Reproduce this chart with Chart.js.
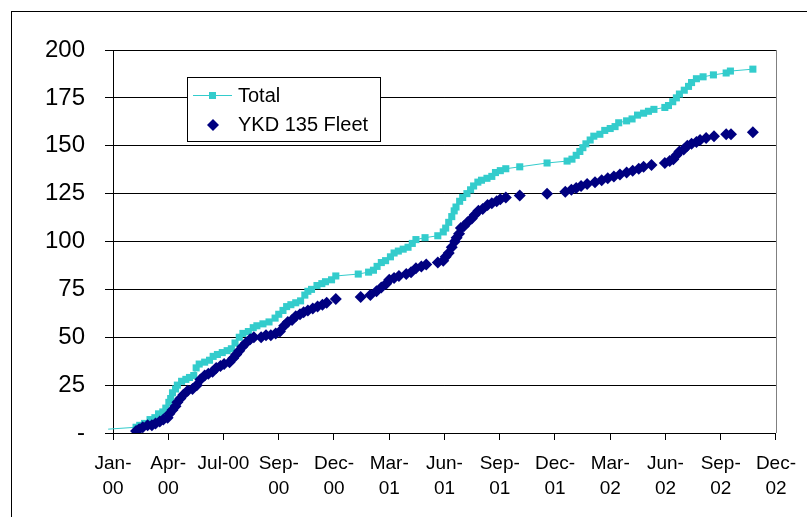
<!DOCTYPE html>
<html>
<head>
<meta charset="utf-8">
<script src="https://cdn.jsdelivr.net/npm/chart.js"></script>
<style>
    body { margin: 0; background: #fff; }
    #wrap { position: relative; width: 807px; height: 517px; }
</style>
</head>
<body>
<div id="wrap"><canvas id="chart" width="807" height="517"></canvas></div>
<script>
// days counted from 1 Jan 2000, cumulative counts
const totalDays = [-8, 38, 44, 52, 61, 69, 75, 82, 87, 92, 95, 98, 103, 106, 113, 120, 126, 133, 137, 142,
    151, 159, 165, 172, 180, 188, 195, 201, 208, 214, 223, 231, 237, 247, 257, 267, 273, 280, 286, 293,
    301, 309, 316, 321, 327, 336, 344, 350, 360, 367, 404, 421, 429, 435, 442, 449, 457, 463, 470, 478,
    486, 493, 499, 514, 535, 544, 548, 553, 558, 562, 565, 571, 576, 583, 589, 594, 601, 607, 616, 624,
    630, 638, 647, 670, 715, 748, 756, 763, 769, 774, 779, 786, 792, 802, 810, 819, 827, 833, 846, 855,
    864, 874, 882, 891, 909, 915, 922, 928, 933, 941, 948, 953, 961, 972, 989, 1010, 1017, 1054];
const totalCount = [2, 3, 4, 5, 7, 8, 10, 11, 13, 16, 18, 21, 23, 25, 27, 28, 29, 30, 34, 36,
    37, 38, 40, 41, 42, 43, 44, 47, 50, 52, 53, 55, 56, 57, 58, 60, 62, 64, 66, 67,
    68, 69, 72, 74, 75, 77, 78, 79, 80, 82, 83, 84, 85, 87, 89, 90, 92, 94, 95, 96,
    97, 99, 101, 102, 103, 105, 107, 110, 113, 116, 118, 121, 123, 125, 127, 129, 131, 132, 133, 134,
    136, 137, 138, 139, 141, 142, 143, 145, 147, 149, 151, 153, 155, 156, 158, 159, 160, 162, 163, 164,
    166, 167, 168, 169, 170, 171, 173, 175, 177, 179, 181, 183, 185, 186, 187, 188, 189, 190];

const fleetDays = [38, 43, 49, 57, 64, 70, 77, 83, 90, 93, 98, 103, 106, 111, 116, 123, 131, 138, 144, 151,
    157, 164, 170, 177, 183, 192, 198, 203, 208, 213, 219, 226, 232, 244, 252, 260, 268, 275, 282, 288,
    295, 301, 308, 314, 321, 329, 337, 345, 352, 367, 408, 424, 434, 442, 450, 455, 463, 471, 483, 491,
    499, 508, 516, 535, 544, 548, 553, 558, 563, 566, 570, 573, 578, 584, 591, 596, 602, 609, 617, 624,
    632, 638, 647, 670, 715, 745, 755, 763, 771, 781, 794, 805, 815, 825, 835, 846, 856, 866, 874, 887,
    909, 917, 923, 928, 933, 940, 946, 953, 961, 967, 977, 990, 1010, 1018, 1054];
const fleetCount = [1, 2, 3, 4, 4, 5, 6, 7, 8, 10, 12, 14, 16, 18, 20, 22, 23, 25, 28, 30,
    31, 32, 34, 35, 36, 37, 39, 41, 43, 45, 47, 49, 50, 50, 51, 51, 52, 53, 56, 58,
    59, 61, 62, 63, 64, 65, 66, 67, 68, 70, 71, 72, 74, 76, 78, 80, 81, 82, 83, 84,
    86, 87, 88, 89, 90, 92, 94, 97, 100, 102, 104, 107, 108, 110, 112, 114, 116, 117, 119, 120,
    121, 122, 123, 124, 125, 126, 127, 128, 129, 130, 131, 132, 133, 134, 135, 136, 137, 138, 139, 140,
    141, 142, 143, 145, 147, 148, 150, 151, 152, 153, 154, 155, 156, 156, 157];

const xTickLabels = [['Jan-', '00'], ['Apr-', '00'], 'Jul-00', ['Sep-', '00'], ['Dec-', '00'],
    ['Mar-', '01'], ['Jun-', '01'], ['Sep-', '01'], ['Dec-', '01'],
    ['Mar-', '02'], ['Jun-', '02'], ['Sep-', '02'], ['Dec-', '02']];
const seriesNames = ['Total', 'YKD 135 Fleet'];

const TURQ = '#33CCCC';
const NAVY = '#000080';

function toPoints(xs, ys) {
    return xs.map((x, i) => ({ x: x, y: ys[i] }));
}

// outer frame, plot right edge and the legend box inside the plot
const decor = {
    id: 'decor',
    beforeDraw(chart) {
        const c = chart.ctx;
        c.save();
        c.fillStyle = '#fff';
        c.fillRect(0, 0, chart.width, chart.height);
        c.strokeStyle = '#000';
        c.lineWidth = 1;
        c.strokeRect(11.5, 11.5, 900, 600);
        c.restore();
    },
    afterDraw(chart) {
        const c = chart.ctx;
        const a = chart.chartArea;
        c.save();
        c.strokeStyle = '#808080';
        c.beginPath();
        c.moveTo(Math.round(a.right) + 0.5, a.top);
        c.lineTo(Math.round(a.right) + 0.5, a.bottom);
        c.stroke();

        // legend
        c.fillStyle = '#fff';
        c.fillRect(187, 77, 193, 64);
        c.strokeStyle = '#000';
        c.strokeRect(187.5, 77.5, 193, 64);
        c.font = '20px "Liberation Sans", Arial, sans-serif';
        c.textBaseline = 'middle';
        c.fillStyle = '#000';
        c.fillText(seriesNames[0], 238, 96);
        c.fillText(seriesNames[1], 238, 125);
        c.strokeStyle = TURQ;
        c.beginPath();
        c.moveTo(193, 95.5);
        c.lineTo(232, 95.5);
        c.stroke();
        c.fillStyle = TURQ;
        c.fillRect(209, 92, 7, 7);
        c.fillStyle = NAVY;
        c.beginPath();
        c.moveTo(213, 119);
        c.lineTo(219, 125);
        c.lineTo(213, 131);
        c.lineTo(207, 125);
        c.closePath();
        c.fill();
        c.restore();
    }
};

new Chart(document.getElementById('chart'), {
    type: 'scatter',
    data: {
        datasets: [{
            label: seriesNames[0],
            data: toPoints(totalDays, totalCount),
            showLine: true,
            borderColor: TURQ,
            backgroundColor: TURQ,
            borderWidth: 1,
            pointStyle: 'rect',
            pointRadius: (ctx) => ctx.dataIndex === 0 ? 0 : 5,
            pointBorderWidth: 0,
            clip: { left: 6, top: 0, right: 0, bottom: 0 },
            order: 1
        }, {
            label: seriesNames[1],
            data: toPoints(fleetDays, fleetCount),
            showLine: false,
            borderColor: NAVY,
            backgroundColor: NAVY,
            pointStyle: 'rectRot',
            pointRadius: 6,
            pointBorderWidth: 0,
            order: 0
        }]
    },
    options: {
        responsive: false,
        animation: false,
        layout: { padding: { top: 50, right: 19, left: 0, bottom: 0 } },
        plugins: {
            legend: { display: false },
            tooltip: { enabled: false }
        },
        scales: {
            x: {
                type: 'linear',
                min: 0,
                max: 1092,
                afterFit(scale) { scale.height = 84; },
                border: { display: true, color: '#000', width: 1 },
                grid: { drawOnChartArea: false, drawTicks: true, tickLength: 7, color: '#000' },
                ticks: {
                    stepSize: 91,
                    autoSkip: false,
                    maxRotation: 0,
                    padding: 11,
                    color: '#000',
                    font: { family: '"Liberation Sans Narrow", "Arial Narrow", "Liberation Sans", Arial', size: 19, lineHeight: 1.32 },
                    callback: (v, i) => xTickLabels[i]
                }
            },
            y: {
                min: 0,
                max: 200,
                afterFit(scale) { scale.width = 113; },
                border: { display: true, color: '#000', width: 1 },
                grid: { color: '#000', tickLength: 8 },
                ticks: {
                    stepSize: 25,
                    padding: 20,
                    color: '#000',
                    font: { family: '"Liberation Sans", Arial', size: 24 },
                    callback: (v) => v === 0 ? '-' : v
                }
            }
        }
    },
    plugins: [decor]
});
</script>
</body>
</html>
